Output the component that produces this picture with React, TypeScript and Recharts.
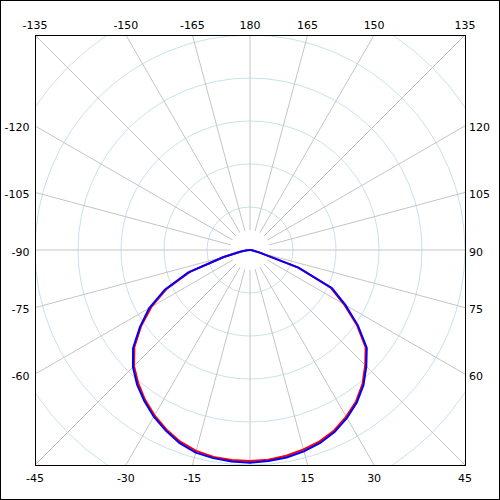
import { PolarAngleAxis, PolarGrid, PolarRadiusAxis, Radar, RadarChart } from "recharts";

// direction in degrees, 180 at the top, going clockwise
const angles = [
  180, 175, 170, 165, 160, 155, 150, 145, 140, 135, 130, 125, 120, 115, 110, 105, 100, 95,
  90, 85, 80, 75, 70, 65, 60, 55, 50, 45, 40, 35, 30, 25, 20, 15, 10, 5,
  0, -5, -10, -15, -20, -25, -30, -35, -40, -45, -50, -55, -60, -65, -70, -75, -80, -85,
  -90, -95, -100, -105, -110, -115, -120, -125, -130, -135, -140, -145, -150, -155, -160, -165, -170, -175,
];

const redLevel = [
  0, 0, 0, 0, 0, 0, 0, 0, 0, 0, 0, 0, 0, 0, 0, 0, 0, 0,
  0, 0.005, 0.014, 0.047, 0.237, 0.414, 0.505, 0.607, 0.702, 0.758, 0.814, 0.86, 0.895, 0.926, 0.947, 0.96, 0.972, 0.979,
  0.981, 0.98, 0.977, 0.967, 0.949, 0.921, 0.888, 0.851, 0.809, 0.763, 0.702, 0.619, 0.53, 0.428, 0.298, 0.126, 0.042, 0.014,
  0, 0, 0, 0, 0, 0, 0, 0, 0, 0, 0, 0, 0, 0, 0, 0, 0, 0,
];

const blueLevel = [
  0, 0, 0, 0, 0, 0, 0, 0, 0, 0, 0, 0, 0, 0, 0, 0, 0, 0,
  0, 0.005, 0.014, 0.047, 0.242, 0.421, 0.513, 0.613, 0.709, 0.765, 0.821, 0.866, 0.902, 0.933, 0.955, 0.969, 0.98, 0.985,
  0.989, 0.987, 0.983, 0.976, 0.956, 0.927, 0.895, 0.857, 0.817, 0.77, 0.71, 0.625, 0.542, 0.437, 0.307, 0.13, 0.047, 0.014,
  0, 0, 0, 0, 0, 0, 0, 0, 0, 0, 0, 0, 0, 0, 0, 0, 0, 0,
];

const ringTicks = [0.2, 0.4, 0.6, 0.8, 1.0, 1.2, 1.4];
const spokeAngles = [180, 165, 150, 135, 120, 105, 90, 75, 60, 45, 30, 15, 0, -15, -30, -45, -60, -75, -90, -105, -120, -135, -150, -165];
const unlabeled = [0];

const SIZE = 500;
const HALF = 215; // half width of the plot box
const RMAX = Math.SQRT2; // box corner, in level units
const OUTER = HALF * RMAX;

const data = angles.map((angle, i) => ({ angle, red: redLevel[i], blue: blueLevel[i] }));

function EdgeLabel(props: any) {
  const { payload } = props;
  const cx = props.cx ?? SIZE / 2;
  const cy = props.cy ?? SIZE / 2;
  const value = payload.value as number;
  if (!spokeAngles.includes(value) || unlabeled.includes(value)) return <g />;
  const rad = (payload.coordinate * Math.PI) / 180;
  const dx = Math.cos(rad);
  const dy = -Math.sin(rad);
  const t = HALF / Math.max(Math.abs(dx), Math.abs(dy));
  const px = cx + t * dx;
  const py = cy + t * dy;
  let x = px;
  let y = py;
  let anchor: "start" | "middle" | "end" = "middle";
  if (Math.abs(dy) >= Math.abs(dx) - 1e-6) {
    y = dy < 0 ? cy - HALF - 6 : cy + HALF + 17;
  } else if (dx < 0) {
    x = cx - HALF - 5.5;
    y = py + 5.5;
    anchor = "end";
  } else {
    x = cx + HALF + 4;
    y = py + 5.5;
    anchor = "start";
  }
  return (
    <text x={x} y={y} textAnchor={anchor} fontSize={11} fontFamily="DejaVu Sans" fill="#000">
      {String(value)}
    </text>
  );
}

export default function App() {
  const spokes = spokeAngles.map((a) => a - 90);
  return (
    <div style={{ position: "fixed", left: 0, top: 0, width: SIZE, height: SIZE, background: "#fff" }}>
      <div
        style={{
          position: "absolute",
          left: 35,
          top: 35,
          width: 2 * HALF + 1,
          height: 2 * HALF + 1,
          boxSizing: "border-box",
          border: "1px solid #000",
          overflow: "hidden",
        }}
      >
        <div style={{ position: "absolute", left: -36, top: -36 }}>
          <RadarChart
            width={SIZE}
            height={SIZE}
            data={data}
            cx={SIZE / 2}
            cy={SIZE / 2}
            outerRadius={OUTER}
            startAngle={90}
            endAngle={-270}
            margin={{ top: 0, right: 0, bottom: 0, left: 0 }}
          >
            <PolarGrid gridType="circle" radialLines={false} stroke="#c6e3ec" />
            <PolarGrid gridType="circle" polarRadius={[]} polarAngles={spokes} stroke="#c4c4c4" />
            <circle cx={SIZE / 2} cy={SIZE / 2} r={20} fill="#fff" />
            <PolarAngleAxis dataKey="angle" tick={false} axisLine={false} tickLine={false} />
            <PolarRadiusAxis
              type="number"
              domain={[0, RMAX]}
              ticks={ringTicks}
              tick={false}
              axisLine={false}
              tickLine={false}
            />
            <Radar dataKey="red" stroke="#ff0000" strokeWidth={2} fill="none" fillOpacity={0} dot={false} isAnimationActive={false} />
            <Radar dataKey="blue" stroke="#0000ff" strokeWidth={2} fill="none" fillOpacity={0} dot={false} isAnimationActive={false} />
          </RadarChart>
        </div>
      </div>
      <div style={{ position: "absolute", left: 0, top: 0 }}>
        <RadarChart
          width={SIZE}
          height={SIZE}
          data={data}
          cx={SIZE / 2}
          cy={SIZE / 2}
          outerRadius={OUTER}
          startAngle={90}
          endAngle={-270}
          margin={{ top: 0, right: 0, bottom: 0, left: 0 }}
        >
          <PolarAngleAxis dataKey="angle" tick={EdgeLabel} axisLine={false} tickLine={false} />
        </RadarChart>
      </div>
      <div
        style={{
          position: "absolute",
          left: 0,
          top: 0,
          width: SIZE,
          height: SIZE,
          boxSizing: "border-box",
          border: "1px solid #000",
          pointerEvents: "none",
        }}
      />
    </div>
  );
}
